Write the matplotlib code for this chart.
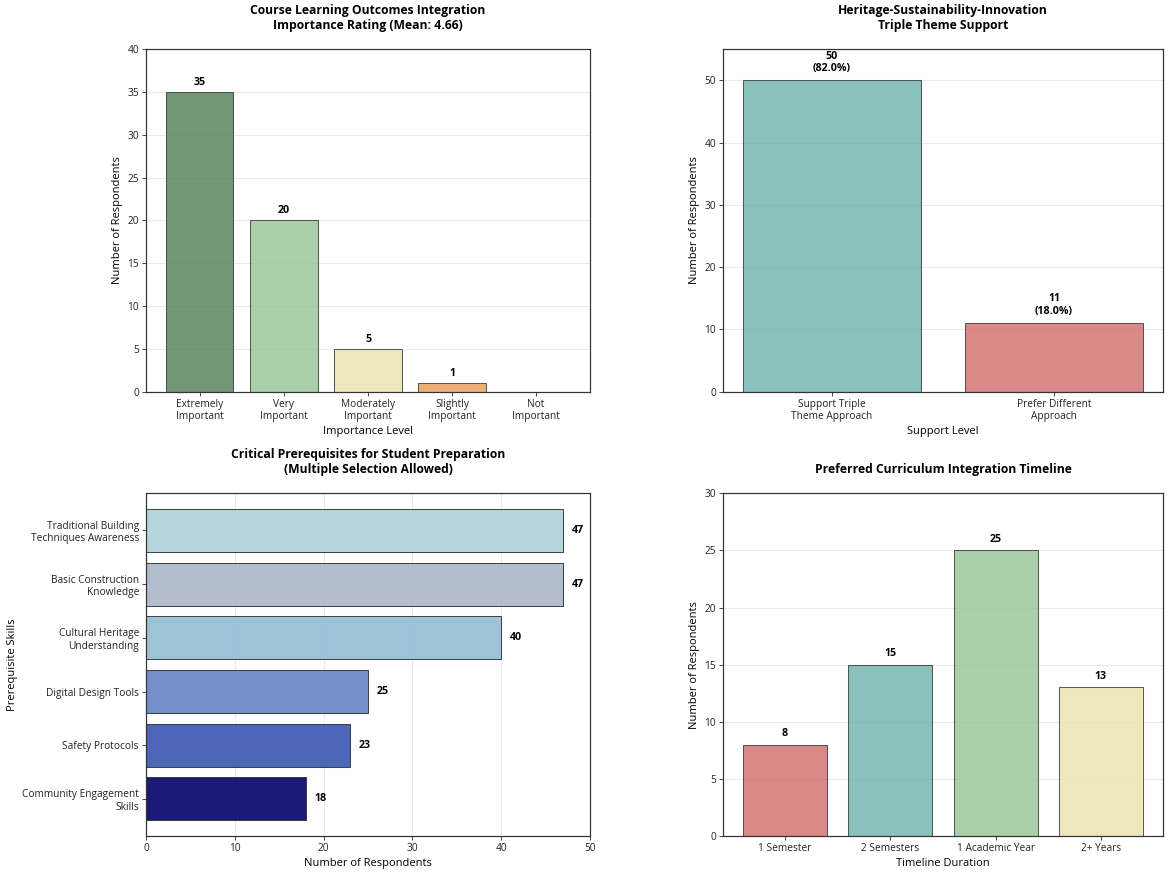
import matplotlib
matplotlib.use("Agg")
import matplotlib.pyplot as plt

plt.rcParams['font.family'] = ['Open Sans', 'DejaVu Sans']

# Data
imp_levels = ['Extremely\nImportant', 'Very\nImportant', 'Moderately\nImportant', 'Slightly\nImportant', 'Not\nImportant']
imp_counts = [35, 20, 5, 1, 0]
imp_colors = ['#507c50', '#94c394', '#eae2ab', '#e99b56', '#d9534f']

support_levels = ['Support Triple\nTheme Approach', 'Prefer Different\nApproach']
support_counts = [50, 11]
support_pct = [82.0, 18.0]
support_colors = ['#6ab3a9', '#d36a6a']

prereq_skills = ['Traditional Building\nTechniques Awareness', 'Basic Construction\nKnowledge',
                 'Cultural Heritage\nUnderstanding', 'Digital Design Tools',
                 'Safety Protocols', 'Community Engagement\nSkills']
prereq_counts = [47, 47, 40, 25, 23, 18]
prereq_colors = ['#b0d1da', '#aab6c9', '#92bdd5', '#6582c3', '#3a56b1', '#03016a']

timeline_labels = ['1 Semester', '2 Semesters', '1 Academic Year', '2+ Years']
timeline_counts = [8, 15, 25, 13]
timeline_colors = ['#d36a6a', '#6ab3a9', '#94c394', '#eae2ab']

W, H = 1169, 874
fig = plt.figure(figsize=(W / 73, H / 73), dpi=73)

def ax_at(x0, x1, y0, y1):
    return fig.add_axes([x0 / W, 1 - y1 / H, (x1 - x0) / W, (y1 - y0) / H])

ax1 = ax_at(146, 590, 49.3, 391.7)
ax2 = ax_at(723, 1163, 49.3, 391.7)
ax3 = ax_at(146, 590, 493.3, 836)
ax4 = ax_at(723, 1163, 493.3, 836)

EDGE = '#333333'
TFS = 12
LFS = 11
KFS = 10
VFS = 10.5

def style(ax, grid_axis):
    for s in ax.spines.values():
        s.set_color('#333333')
        s.set_linewidth(1.2)
    ax.tick_params(labelsize=KFS, colors='#222222')
    ax.grid(axis=grid_axis, alpha=0.3, color='#bbbbbb', linewidth=1)
    ax.set_axisbelow(True)

# Panel 1
x = range(len(imp_levels))
ax1.bar(x, imp_counts, color=imp_colors, alpha=0.8, edgecolor=EDGE, linewidth=1)
for xi, v in zip(x, imp_counts):
    if v > 0:
        ax1.text(xi, v + 0.5, str(v), ha='center', va='bottom', fontsize=VFS, fontweight='bold')
ax1.set_xticks(list(x))
ax1.set_xticklabels(imp_levels)
ax1.set_ylim(0, 40)
ax1.set_xlabel('Importance Level', fontsize=LFS)
ax1.set_ylabel('Number of Respondents', fontsize=LFS)
ax1.set_title('Course Learning Outcomes Integration\nImportance Rating (Mean: 4.66)', fontsize=TFS, fontweight='bold', pad=20)
style(ax1, 'y')

# Panel 2
x = range(len(support_levels))
ax2.bar(x, support_counts, color=support_colors, alpha=0.8, edgecolor=EDGE, linewidth=1)
for xi, v, p in zip(x, support_counts, support_pct):
    ax2.text(xi, v + 1, f'{v}\n({p:.1f}%)', ha='center', va='bottom', fontsize=VFS, fontweight='bold')
ax2.set_xticks(list(x))
ax2.set_xticklabels(support_levels)
ax2.set_ylim(0, 55)
ax2.set_xlabel('Support Level', fontsize=LFS)
ax2.set_ylabel('Number of Respondents', fontsize=LFS)
ax2.set_title('Heritage-Sustainability-Innovation\nTriple Theme Support', fontsize=TFS, fontweight='bold', pad=20)
style(ax2, 'y')

# Panel 3
y = list(range(len(prereq_skills)))[::-1]
ax3.barh(y, prereq_counts, color=prereq_colors, alpha=0.9, edgecolor=EDGE, linewidth=1)
for yi, v in zip(y, prereq_counts):
    ax3.text(v + 1, yi, str(v), ha='left', va='center', fontsize=VFS, fontweight='bold')
ax3.set_yticks(y)
ax3.set_yticklabels(prereq_skills)
ax3.set_xlim(0, 50)
ax3.set_xlabel('Number of Respondents', fontsize=LFS)
ax3.set_ylabel('Prerequisite Skills', fontsize=LFS)
ax3.set_title('Critical Prerequisites for Student Preparation\n(Multiple Selection Allowed)', fontsize=TFS, fontweight='bold', pad=20)
style(ax3, 'x')

# Panel 4
x = range(len(timeline_labels))
ax4.bar(x, timeline_counts, color=timeline_colors, alpha=0.8, edgecolor=EDGE, linewidth=1)
for xi, v in zip(x, timeline_counts):
    ax4.text(xi, v + 0.5, str(v), ha='center', va='bottom', fontsize=VFS, fontweight='bold')
ax4.set_xticks(list(x))
ax4.set_xticklabels(timeline_labels)
ax4.set_ylim(0, 30)
ax4.set_xlabel('Timeline Duration', fontsize=LFS)
ax4.set_ylabel('Number of Respondents', fontsize=LFS)
ax4.set_title('Preferred Curriculum Integration Timeline', fontsize=TFS, fontweight='bold', pad=20)
style(ax4, 'y')

fig.savefig('out.png', dpi=73, facecolor='white')
